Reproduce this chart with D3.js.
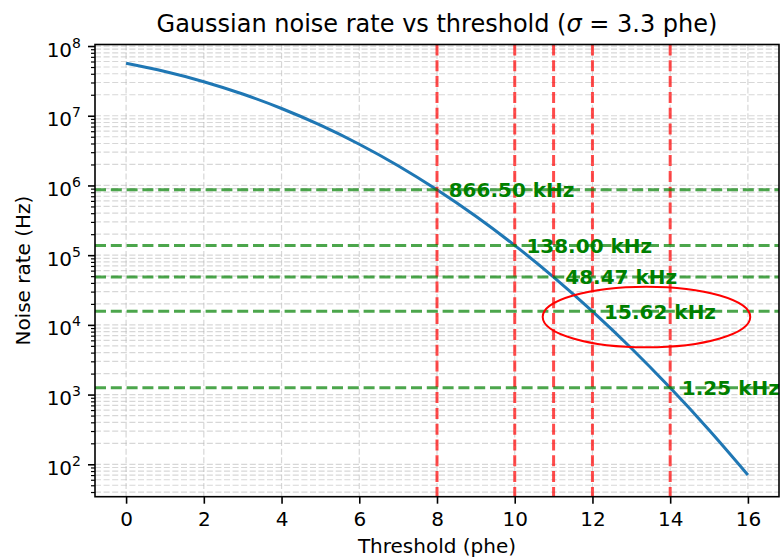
<!DOCTYPE html>
<html>
<head>
<meta charset="utf-8">
<script src="https://cdn.jsdelivr.net/npm/d3@7"></script>
<style>
  html, body { margin: 0; padding: 0; background: #fff; }
  svg { display: block; font-family: "DejaVu Sans", sans-serif; }
</style>
</head>
<body>
<svg id="chart" width="781" height="559"></svg>
<script>
// ---- data ----
const thresholds = [0, 1, 2, 3, 4, 5, 6, 7, 8, 9, 10, 11, 12, 13, 14, 15, 16];
const rates = [5.65e7, 4.30e7, 3.08e7, 2.05e7, 1.27e7, 7.33e6, 3.90e6, 1.92e6, 8.665e5,
               3.61e5, 1.38e5, 4.847e4, 1.562e4, 4.62e3, 1.25e3, 311, 70.4];
const markThresholds = [8, 10, 11, 12, 14];
const markRates = [866500, 138000, 48470, 15620, 1250];
const markLabels = ["866.50 kHz", "138.00 kHz", "48.47 kHz", "15.62 kHz", "1.25 kHz"];
const xTicks = [0, 2, 4, 6, 8, 10, 12, 14, 16];
const yDecades = [2, 3, 4, 5, 6, 7, 8];
const titleText = "Gaussian noise rate vs threshold (";
const xLabel = "Threshold (phe)";
const yLabel = "Noise rate (Hz)";
// highlighted annotation (data units)
const ellipseCenter = [13.39, 12970];
const ellipseHalfWidth = 2.67;     // threshold units
const ellipseHalfDecades = 0.435;  // log10 decades

// ---- layout ----
const L = 95, R = 779, T = 44.5, B = 496.7;
const svg = d3.select("#chart");

const x = d3.scaleLinear().domain([-0.8, 16.8]).range([L, R]);
const y = d3.scaleLog().domain([Math.pow(10, 1.535), Math.pow(10, 8.022)]).range([B, T]);

const [y0, y1] = y.domain();
const yMinor = [];
for (let e = 0; e <= 9; e++) {
  for (let m = 2; m <= 9; m++) {
    const v = m * Math.pow(10, e);
    if (v >= y0 && v <= y1) yMinor.push(v);
  }
}
const yMajor = yDecades.map(d => Math.pow(10, d));

// ---- grid ----
const grid = svg.append("g").attr("stroke", "#b0b0b0").attr("stroke-opacity", 0.5)
  .attr("stroke-width", 1.2).attr("stroke-dasharray", "6,2.6").attr("fill", "none");
grid.selectAll(".gx").data(xTicks).join("line")
  .attr("x1", d => x(d)).attr("x2", d => x(d)).attr("y1", T).attr("y2", B);
grid.selectAll(".gy").data(yMajor.concat(yMinor)).join("line")
  .attr("x1", L).attr("x2", R).attr("y1", d => y(d)).attr("y2", d => y(d));

// ---- curve ----
const line = d3.line().x((d, i) => x(thresholds[i])).y(d => y(d)).curve(d3.curveMonotoneX);
svg.append("path").datum(rates).attr("d", line)
  .attr("fill", "none").attr("stroke", "#1f77b4").attr("stroke-width", 3)
  .attr("stroke-linejoin", "round").attr("stroke-linecap", "butt");

// ---- reference lines ----
svg.append("g").selectAll("line").data(markThresholds).join("line")
  .attr("x1", d => x(d)).attr("x2", d => x(d)).attr("y1", T).attr("y2", B)
  .attr("stroke", "red").attr("stroke-opacity", 0.7).attr("stroke-width", 3)
  .attr("stroke-dasharray", "11,4.8");
svg.append("g").selectAll("line").data(markRates).join("line")
  .attr("x1", L).attr("x2", R).attr("y1", d => y(d)).attr("y2", d => y(d))
  .attr("stroke", "green").attr("stroke-opacity", 0.7).attr("stroke-width", 3)
  .attr("stroke-dasharray", "11,4.8");

// ---- labels ----
svg.append("g").selectAll("text").data(markLabels).join("text")
  .attr("x", (d, i) => x(markThresholds[i] + 0.3))
  .attr("y", (d, i) => y(markRates[i]))
  .attr("dy", "0.36em")
  .attr("fill", "green").attr("font-weight", "bold").attr("font-size", 20)
  .text(d => d);

// ---- annotation ellipse ----
const ecx = x(ellipseCenter[0]), ecy = y(ellipseCenter[1]);
svg.append("ellipse")
  .attr("cx", ecx).attr("cy", ecy)
  .attr("rx", x(ellipseCenter[0] + ellipseHalfWidth) - ecx)
  .attr("ry", ecy - y(ellipseCenter[1] * Math.pow(10, ellipseHalfDecades)))
  .attr("fill", "none").attr("stroke", "red").attr("stroke-width", 2);

// ---- axes ----
const xAxis = svg.append("g").attr("transform", `translate(0,${B})`)
  .call(d3.axisBottom(x).tickValues(xTicks).tickSize(7).tickPadding(8).tickFormat(d3.format("d")));
xAxis.select(".domain").remove();
xAxis.selectAll("text").attr("font-size", 20).attr("font-family", "DejaVu Sans").attr("fill", "#000");
xAxis.selectAll("line").attr("stroke-width", 1.6);

const yAxis = svg.append("g").attr("transform", `translate(${L},0)`)
  .call(d3.axisLeft(y).tickValues(yMajor).tickSize(7).tickFormat(""));
yAxis.select(".domain").remove();
yAxis.selectAll("line").attr("stroke-width", 1.6);
const yAxisMinor = svg.append("g").attr("transform", `translate(${L},0)`)
  .call(d3.axisLeft(y).tickValues(yMinor).tickSize(4).tickFormat(""));
yAxisMinor.select(".domain").remove();
yAxisMinor.selectAll("line").attr("stroke-width", 1.2);

const yt = svg.append("g").selectAll("text").data(yDecades).join("text")
  .attr("x", L - 14).attr("y", d => y(Math.pow(10, d)) + 10.5)
  .attr("text-anchor", "end").attr("font-size", 20).attr("fill", "#000");
yt.append("tspan").text("10");
yt.append("tspan").attr("dy", -9).attr("font-size", 14).text(d => d);

// frame
svg.append("rect").attr("x", L).attr("y", T).attr("width", R - L).attr("height", B - T)
  .attr("fill", "none").attr("stroke", "#000").attr("stroke-width", 1.6);

// ---- titles ----
const title = svg.append("text").attr("x", (L + R) / 2).attr("y", 32)
  .attr("text-anchor", "middle").attr("font-size", 24).attr("fill", "#000");
title.append("tspan").text(titleText);
title.append("tspan").attr("font-style", "italic").text("σ");
title.append("tspan").text(" = 3.3 phe)");

svg.append("text").attr("x", (L + R) / 2).attr("y", 553)
  .attr("text-anchor", "middle").attr("font-size", 20).attr("fill", "#000").text(xLabel);
svg.append("text").attr("transform", `translate(30,${(T + B) / 2}) rotate(-90)`)
  .attr("text-anchor", "middle").attr("font-size", 20).attr("fill", "#000").text(yLabel);
</script>
</body>
</html>
